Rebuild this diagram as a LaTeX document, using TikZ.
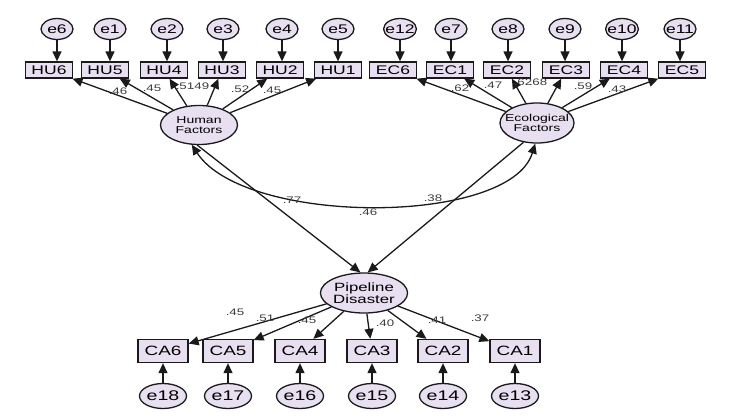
\documentclass[tikz,border=0pt]{standalone}
\usepackage{fontspec}
\setmainfont{Liberation Sans}[FakeStretch=1.4]
\usetikzlibrary{arrows.meta,shapes.geometric}
\definecolor{lav}{HTML}{E8DFF1}
\definecolor{ink}{HTML}{1A1A1A}
\begin{document}
\begin{tikzpicture}[x=1pt,y=-1pt,
  obs/.style={draw=ink,line width=1.3pt,fill=lav,minimum width=47pt,minimum height=16pt,inner sep=0pt,font=\fontsize{12.5}{12.5}\selectfont},
  obsb/.style={obs,minimum width=50pt,minimum height=23pt,font=\fontsize{13.5}{14}\selectfont},
  err/.style={ellipse,draw=ink,line width=1.3pt,fill=lav,minimum width=32pt,minimum height=21pt,inner xsep=-3pt,inner ysep=0pt,font=\fontsize{12.5}{12.5}\selectfont},
  errb/.style={err,minimum width=47pt,minimum height=25pt,inner xsep=-1pt,font=\fontsize{14}{14}\selectfont},
  lat/.style={ellipse,draw=ink,line width=1.3pt,fill=lav,inner sep=0pt,align=center},
  arr/.style={draw=ink,line width=1.3pt,-{Triangle[length=10pt,width=9pt]}},
  biarr/.style={draw=ink,line width=1.3pt,{Triangle[length=10pt,width=9pt]}-{Triangle[length=10pt,width=9pt]}},
  lab/.style={font=\fontsize{9.5}{9.5}\selectfont,text=ink!85,inner sep=0pt}]
\useasboundingbox (0,0) rectangle (735,418);

% latent variables
\node[lat,minimum width=77pt,minimum height=39pt,font=\fontsize{10}{10.5}\selectfont] (HF) at (199,125) {Human\\Factors};
\node[lat,minimum width=74pt,minimum height=40pt,inner xsep=-10pt,font=\fontsize{10}{10.5}\selectfont] (EF) at (537,123) {Ecological\\Factors};
\node[lat,minimum width=84pt,minimum height=40pt,font=\fontsize{12}{12.5}\selectfont] (PD) at (364,293) {Pipeline\\Disaster};

% human factor indicators
\foreach \n/\bx/\e/\ex in {HU6/49/e6/57, HU5/105/e1/110, HU4/164/e2/167, HU3/222/e3/223, HU2/280/e4/282, HU1/338/e5/338}{
  \node[obs] (\n) at (\bx,70) {\n};
  \node[err] (\e) at (\ex,29) {\e};
  \draw[arr] (\e) -- (\e |- \n.north);
  \draw[arr] (HF) -- (\n);
}
% ecological indicators
\foreach \n/\bx/\e/\ex in {EC6/393/e12/400, EC1/450/e7/451, EC2/507/e8/508, EC3/566/e9/565, EC4/624/e10/622, EC5/682/e11/680}{
  \node[obs] (\n) at (\bx,70) {\n};
  \node[err] (\e) at (\ex,29) {\e};
  \draw[arr] (\e) -- (\e |- \n.north);
  \draw[arr] (EF) -- (\n);
}
% consequence indicators
\foreach \n/\bx/\e in {CA6/163/e18, CA5/228/e17, CA4/300/e16, CA3/372/e15, CA2/443/e14, CA1/515/e13}{
  \node[obsb] (\n) at (\bx,351) {\n};
  \node[errb] (\e) at (\bx,396) {\e};
  \draw[arr] (\e) -- (\n);
  \draw[arr] (PD) -- (\n);
}

% structural paths
\draw[arr] (HF.265) -- (PD.100);
\draw[arr] (EF.235) -- (PD.80);
\draw[biarr] (HF.250) .. controls (245,226) and (510,226) .. (EF.265);

% loadings
\foreach \t/\x/\y in {.46/118/91, .45/152/88, .51/185/86, .49/200/86, .52/240/89, .45/272/90,
  .62/460/88, .47/493/85, .62/523/82, .68/538/82, .59/583/86, .43/617/89,
  .77/292/200, .46/368/212, .38/433/198,
  .45/235/312, .51/265/318, .45/307/320, .40/385/323, .41/437/320, .37/480/318}{
  \node[lab] at (\x,\y) {\t};
}
\end{tikzpicture}
\end{document}
